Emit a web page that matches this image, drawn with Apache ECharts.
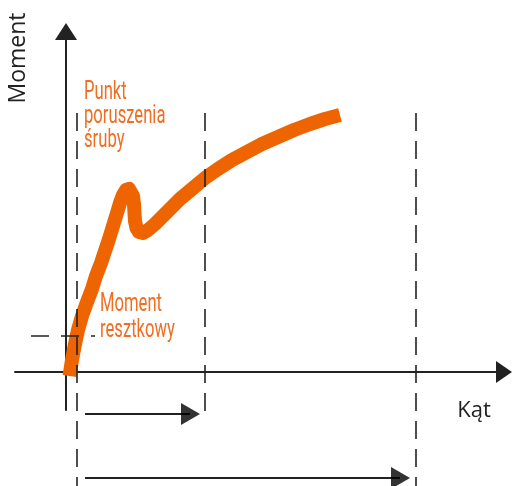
<!DOCTYPE html>
<html>
<head>
<meta charset="utf-8">
<script src="https://cdn.jsdelivr.net/npm/echarts@6/dist/echarts.min.js"></script>
<style>html,body{margin:0;padding:0;background:#fff}#c{width:512px;height:486px}</style>
</head>
<body>
<div id="c"></div>
<script>
// Curve: angle (x) vs moment (y), arbitrary units
const curveAngle  = [3.5, 6, 9, 12, 16, 21, 26, 30, 35, 39, 43, 47, 51, 54, 57, 60, 63, 65, 67, 68, 68.5, 69, 70.5, 73, 77, 82, 89, 96, 104, 114, 126, 139, 152, 166, 181, 196, 212, 228, 244, 259, 274];
const curveMoment = [-4, 12, 28, 42, 56, 70, 83, 96, 109, 121, 133, 146, 159, 169, 177, 182, 183, 181, 176, 168, 159, 151, 144, 140, 139, 142, 148, 155, 163, 173, 183, 194, 203, 212, 220, 228, 235, 242, 248, 253, 257];
// Reference marks
const dashedAngles = [11, 139, 350];
const dashedTop = 259;
const dashedBottoms = [-114, -40, -114];
const residualMoment = 36;
const residualSpan = [-35, 29];
const arrowRowsY = [-42, -106];
const arrowStart = 19;
const arrowTips = [134, 344];
const axisXLabel = 'Kąt';
const axisYLabel = 'Moment';
const labelSlip = 'Punkt\nporuszenia\nśruby';
const labelResidual = 'Moment\nresztkowy';

const ORANGE = '#EE6400';
const TEXT_OR = '#F06E22';
const INK = '#222222';

const series = [];
series.push({
  type: 'line', z: 1, smooth: false, symbol: 'none', clip: false,
  data: curveAngle.map((a, i) => [a, curveMoment[i]]),
  lineStyle: { color: ORANGE, width: 14, cap: 'butt', join: 'round' }
});
dashedAngles.forEach((a, i) => {
  series.push({
    type: 'line', z: 3, symbol: 'none', clip: false, silent: true,
    data: [[a, dashedTop], [a, dashedBottoms[i]]],
    lineStyle: { color: INK, width: 1.6, type: [18, 10] }
  });
});
series.push({
  type: 'line', z: 3, symbol: 'none', clip: false, silent: true,
  data: [[residualSpan[0], residualMoment], [residualSpan[1], residualMoment]],
  lineStyle: { color: INK, width: 1.6, type: [18, 12] }
});
arrowRowsY.forEach((y, i) => {
  series.push({
    type: 'line', z: 3, symbol: 'none', clip: false, silent: true,
    data: [[arrowStart, y], [arrowTips[i] - 10, y]],
    lineStyle: { color: INK, width: 2 }
  });
});
series.push({
  type: 'scatter', z: 4, clip: false, silent: true,
  symbol: 'triangle', symbolSize: [22, 19], symbolRotate: -90,
  data: arrowRowsY.map((y, i) => [arrowTips[i] - 9.5, y]),
  itemStyle: { color: '#000' }
});

const chart = echarts.init(document.getElementById('c'), null, { renderer: 'canvas' });
chart.setOption({
  animation: false,
  backgroundColor: '#ffffff',
  grid: { left: 15, right: 8, top: 31.5, bottom: 76, containLabel: false },
  xAxis: {
    type: 'value', min: -51, max: 438,
    axisLine: { onZero: true, lineStyle: { color: INK, width: 2 }, symbol: ['none', 'triangle'], symbolSize: [22, 16] },
    axisTick: { show: false }, axisLabel: { show: false }, splitLine: { show: false }
  },
  yAxis: {
    type: 'value', min: -38, max: 340.5,
    axisLine: { onZero: true, lineStyle: { color: INK, width: 2 }, symbol: ['none', 'triangle'], symbolSize: [22, 17] },
    axisTick: { show: false }, axisLabel: { show: false }, splitLine: { show: false }
  },
  graphic: [
    { type: 'text', x: 18, y: 58, rotation: Math.PI / 2, z: 10,
      style: { text: axisYLabel, font: '23px "Open Sans"', fill: INK, align: 'center', verticalAlign: 'middle' } },
    { type: 'text', x: 474, y: 411, z: 10,
      style: { text: axisXLabel, font: '22px "Open Sans"', fill: INK, align: 'center', verticalAlign: 'middle' } },
    { type: 'text', x: 84, y: 116, scaleX: 0.64, z: 10,
      style: { text: labelSlip, font: '26px Roboto', lineHeight: 24, fill: TEXT_OR, align: 'left', verticalAlign: 'middle' } },
    { type: 'text', x: 100, y: 317, scaleX: 0.64, z: 10,
      style: { text: labelResidual, font: '26px Roboto', lineHeight: 26, fill: TEXT_OR, align: 'left', verticalAlign: 'middle' } }
  ],
  series: series
});
</script>
</body>
</html>
